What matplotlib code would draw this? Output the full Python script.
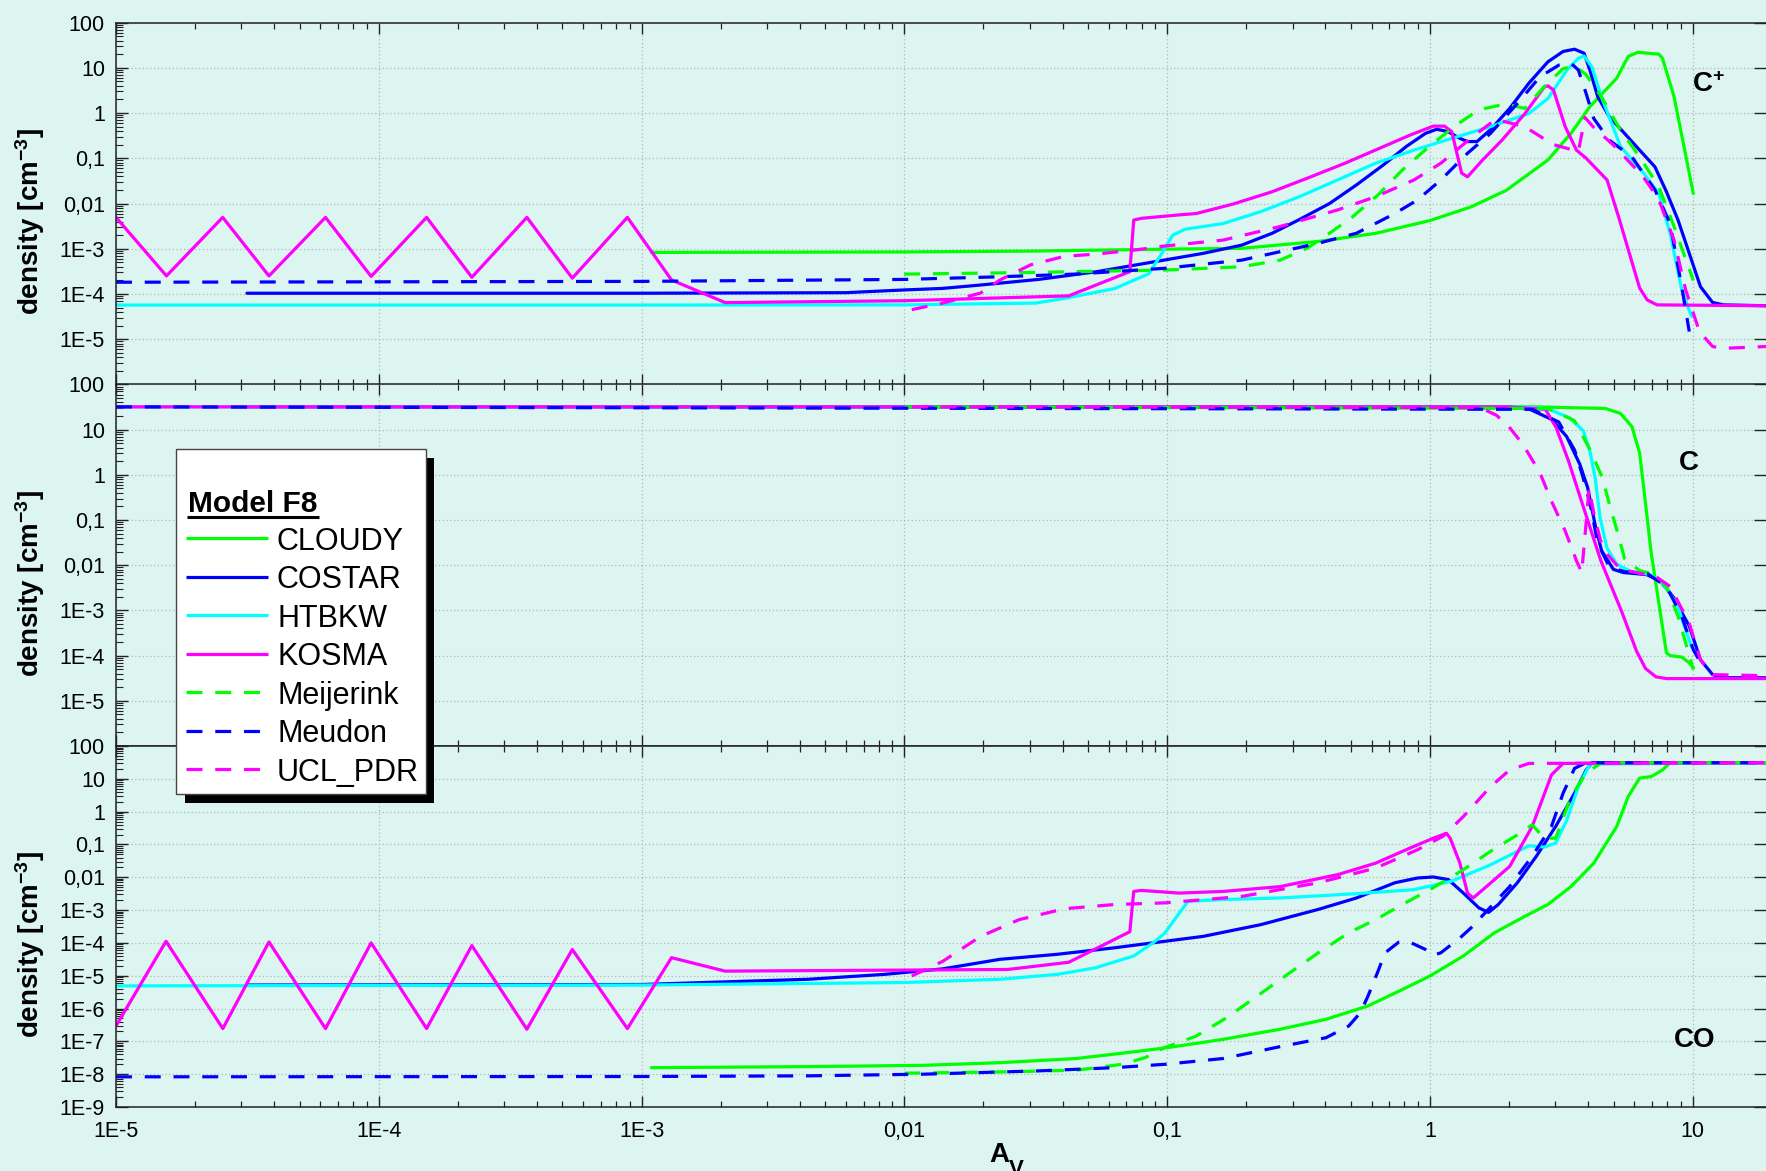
import matplotlib
matplotlib.use("Agg")
import numpy as np
import matplotlib.pyplot as plt
from matplotlib.ticker import FixedLocator, LogLocator, FuncFormatter, NullFormatter
from matplotlib.patches import Rectangle
from matplotlib.lines import Line2D

plt.rcParams['font.family'] = ['Liberation Sans', 'DejaVu Sans']
plt.rcParams['mathtext.fontset'] = 'custom'
plt.rcParams['mathtext.rm'] = 'Liberation Sans'
plt.rcParams['mathtext.bf'] = 'Liberation Sans:bold'
plt.rcParams['mathtext.it'] = 'Liberation Sans:italic'

# ---------------- data (A_V, density in cm^-3) ----------------
models = ['CLOUDY', 'COSTAR', 'HTBKW', 'KOSMA', 'Meijerink', 'Meudon', 'UCL_PDR']

# C+ panel
cp_cloudy_x = [1.09e-3, 0.01, 0.0316, 0.1, 0.192, 0.376, 0.621, 1.0, 1.44, 1.95, 2.81, 3.44, 4.06, 5.14, 5.68, 6.18, 7.43, 7.67, 8.49, 10.05]
cp_cloudy_y = [8.3e-4, 8.5e-4, 8.9e-4, 9.8e-4, 1.02e-3, 1.45e-3, 2.19e-3, 4.2e-3, 8.5e-3, 0.0195, 0.0912, 0.355, 1.38, 5.89, 17.8, 21.9, 20.0, 16.2, 2.29, 0.0166]
cp_costar_x = [3.15e-5, 1e-3, 6.0e-3, 0.01, 0.014, 0.0195, 0.0324, 0.0537, 0.0832, 0.137, 0.192, 0.251, 0.318, 0.415, 0.525, 0.664, 0.813, 0.962, 1.06, 1.17, 1.30, 1.39, 1.51, 1.70, 2.01, 2.38, 2.81, 3.21, 3.55, 3.86, 4.06, 4.35, 4.81, 5.50, 6.28, 7.18, 7.94, 8.79, 9.70, 10.7, 11.9, 13.1, 19]
cp_costar_y = [1.04e-4, 1.04e-4, 1.07e-4, 1.23e-4, 1.33e-4, 1.58e-4, 2.1e-4, 3.1e-4, 4.8e-4, 7.9e-4, 1.2e-3, 2.2e-3, 4.4e-3, 0.01, 0.0257, 0.0708, 0.182, 0.355, 0.437, 0.389, 0.275, 0.234, 0.234, 0.427, 1.26, 4.57, 13.5, 22.9, 25.7, 20.9, 8.9, 2.29, 0.832, 0.355, 0.151, 0.0646, 0.0182, 4.3e-3, 7.9e-4, 1.45e-4, 6.5e-5, 5.75e-5, 5.5e-5]
cp_htbkw_x = [1e-5, 1e-3, 0.01, 0.0316, 0.0422, 0.0631, 0.0851, 0.0955, 0.105, 0.117, 0.163, 0.227, 0.318, 0.445, 0.621, 0.869, 1.21, 1.70, 2.38, 2.81, 3.32, 3.67, 3.86, 4.13, 4.49, 5.31, 6.50, 7.43, 8.20, 9.08, 9.89]
cp_htbkw_y = [5.7e-5, 5.7e-5, 5.75e-5, 6.3e-5, 8.3e-5, 1.32e-4, 2.8e-4, 7.9e-4, 2.0e-3, 2.7e-3, 3.6e-3, 6.6e-3, 0.0141, 0.0331, 0.0776, 0.151, 0.275, 0.501, 0.977, 2.09, 8.9, 16.2, 18.2, 10.5, 2.29, 0.182, 0.0468, 0.0166, 2.2e-3, 1.23e-4, 3.2e-5]
cp_kosma_x = [1.0e-5, 1.556e-5, 2.547e-5, 3.82e-5, 6.27e-5, 9.35e-5, 1.52e-4, 2.26e-4, 3.66e-4, 5.45e-4, 8.83e-4, 1.30e-3, 2.08e-3, 0.01, 0.0422, 0.0721, 0.0746, 0.0798, 0.111, 0.129, 0.179, 0.251, 0.352, 0.475, 0.643, 0.839, 1.03, 1.135, 1.21, 1.32, 1.39, 1.585, 1.88, 2.30, 2.72, 2.81, 2.95, 3.27, 3.61, 3.93, 4.72, 5.22, 6.28, 6.71, 7.31, 19]
cp_kosma_y = [4.94e-3, 2.51e-4, 4.94e-3, 2.51e-4, 4.94e-3, 2.45e-4, 4.94e-3, 2.34e-4, 4.94e-3, 2.24e-4, 4.94e-3, 2.04e-4, 6.46e-5, 7.1e-5, 9.1e-5, 3.12e-4, 4.3e-3, 4.7e-3, 5.6e-3, 6.0e-3, 9.8e-3, 0.0182, 0.0389, 0.0776, 0.166, 0.324, 0.513, 0.513, 0.389, 0.0468, 0.0389, 0.0912, 0.251, 0.977, 3.72, 3.98, 3.24, 0.501, 0.151, 0.1, 0.0331, 5.1e-3, 1.35e-4, 7.4e-5, 5.75e-5, 5.5e-5]
cp_meijerink_x = [9.98e-3, 0.0316, 0.1, 0.192, 0.269, 0.34, 0.415, 0.508, 0.643, 0.785, 0.993, 1.256, 1.535, 1.94, 2.30, 2.72, 3.21, 3.55, 3.93, 4.49, 5.31, 6.28, 7.43, 8.49, 10.05]
cp_meijerink_y = [2.75e-4, 3.0e-4, 3.4e-4, 4.0e-4, 5.6e-4, 1.02e-3, 2.2e-3, 5.1e-3, 0.0166, 0.055, 0.182, 0.537, 1.175, 1.585, 1.26, 3.80, 9.5, 11.0, 7.0, 2.29, 0.417, 0.107, 0.0234, 3.1e-3, 2.0e-4]
cp_meudon_x = [1e-5, 1e-3, 0.01, 0.0229, 0.0447, 0.098, 0.192, 0.376, 0.525, 0.735, 0.897, 1.10, 1.39, 1.70, 2.15, 2.62, 3.10, 3.44, 3.67, 3.93, 4.20, 4.81, 5.87, 7.18, 8.20, 9.08, 9.70]
cp_meudon_y = [1.82e-4, 1.9e-4, 2.1e-4, 2.4e-4, 2.75e-4, 3.7e-4, 5.6e-4, 1.32e-3, 2.2e-3, 6.0e-3, 0.012, 0.0331, 0.129, 0.355, 1.62, 6.31, 11.5, 12.6, 8.9, 2.69, 0.759, 0.251, 0.107, 0.02, 3.6e-3, 1.45e-4, 1.48e-5]
cp_ucl_x = [0.01067, 0.014, 0.0195, 0.0231, 0.0302, 0.0407, 0.0533, 0.0746, 0.098, 0.163, 0.269, 0.445, 0.621, 0.869, 1.10, 1.435, 1.778, 2.29, 2.95, 3.67, 3.89, 4.17, 5.01, 6.46, 7.41, 8.49, 9.40, 10.6, 11.9, 13.1, 19]
cp_ucl_y = [4.5e-5, 6.3e-5, 1.05e-4, 2.04e-4, 4.4e-4, 6.8e-4, 7.6e-4, 9.3e-4, 1.15e-3, 1.55e-3, 3.1e-3, 7.2e-3, 0.0141, 0.0331, 0.0776, 0.282, 0.724, 0.501, 0.2, 0.141, 0.794, 0.501, 0.191, 0.0398, 0.0126, 1.55e-3, 1.23e-4, 1.48e-5, 6.9e-6, 6.3e-6, 6.9e-6]

# C panel
c_cloudy_x = [1.09e-3, 2.51, 4.65, 5.31, 5.87, 6.28, 6.61, 6.95, 7.43, 7.94, 8.20, 9.08, 9.70, 10.05]
c_cloudy_y = [32, 32, 29.5, 22.9, 11.7, 3.02, 0.234, 0.0186, 1.45e-3, 1.15e-4, 1.0e-4, 9.3e-5, 6.9e-5, 5.4e-5]
c_costar_x = [3.15e-5, 2.01, 2.40, 2.90, 3.31, 3.72, 3.98, 4.25, 4.50, 4.99, 5.44, 6.68, 7.52, 8.45, 9.70, 10.7, 11.9, 13.1, 19]
c_costar_y = [32, 31.6, 28.2, 17.0, 7.1, 1.70, 0.525, 0.0794, 0.0209, 8.1e-3, 6.9e-3, 6.2e-3, 4.5e-3, 1.95e-3, 4.5e-4, 8.1e-5, 3.8e-5, 3.24e-5, 3.24e-5]
c_htbkw_x = [1e-5, 2.22, 2.78, 3.41, 3.84, 4.06, 4.25, 4.44, 4.71, 5.14, 5.78, 6.89, 7.74, 8.71, 9.89]
c_htbkw_y = [32, 31.6, 29.5, 18.2, 9.3, 3.39, 0.871, 0.112, 0.0245, 0.0105, 7.4e-3, 6.2e-3, 3.8e-3, 1.38e-3, 1.58e-4]
c_kosma_x = [1e-5, 2.0, 2.75, 3.02, 3.37, 3.89, 4.47, 5.37, 6.11, 6.61, 7.24, 7.94, 19]
c_kosma_y = [32, 32, 28.2, 11.2, 2.0, 0.151, 0.0126, 9.3e-4, 1.26e-4, 5.2e-5, 3.4e-5, 3.1e-5, 3.1e-5]
c_meijerink_x = [0.01, 2.81, 3.55, 4.07, 4.52, 4.90, 5.19, 5.50, 6.28, 7.18, 7.94, 8.79, 9.40, 10.05]
c_meijerink_y = [32, 29.5, 15.8, 3.55, 0.891, 0.158, 0.0501, 0.0141, 7.6e-3, 6.2e-3, 3.4e-3, 7.4e-4, 1.9e-4, 4.9e-5]
c_meudon_x = [1e-5, 2.45, 3.09, 3.55, 3.80, 4.06, 4.35, 4.81, 5.50, 6.71, 7.94, 9.08, 10.05, 10.7]
c_meudon_y = [32, 28.2, 14.8, 3.55, 1.0, 0.24, 0.0309, 9.3e-3, 7.2e-3, 6.5e-3, 3.4e-3, 7.4e-4, 1.35e-4, 7.1e-5]
c_ucl_x = [0.01067, 1.55, 1.79, 1.99, 2.26, 2.62, 2.90, 3.27, 3.61, 3.78, 3.91, 4.03, 4.22, 4.46, 4.73, 5.31, 6.59, 7.31, 8.20, 9.70, 10.7, 11.9, 19]
c_ucl_y = [32, 30.9, 20.9, 12.0, 4.68, 1.12, 0.263, 0.0575, 0.0126, 6.9e-3, 0.0631, 0.501, 0.126, 0.0347, 0.0174, 8.1e-3, 6.3e-3, 5.4e-3, 3.4e-3, 5.2e-4, 8.1e-5, 3.8e-5, 3.6e-5]

# CO panel
co_cloudy_x = [1.09e-3, 4.3e-3, 0.0118, 0.0231, 0.0451, 0.0746, 0.101, 0.163, 0.269, 0.402, 0.581, 0.785, 1.0, 1.34, 1.76, 2.30, 2.81, 3.44, 4.20, 5.14, 5.68, 6.28, 6.95, 7.67, 8.20, 19]
co_cloudy_y = [1.58e-8, 1.7e-8, 1.86e-8, 2.24e-8, 3.0e-8, 4.8e-8, 6.5e-8, 1.15e-7, 2.34e-7, 4.7e-7, 1.2e-6, 3.8e-6, 9.8e-6, 4.0e-5, 2.04e-4, 6.5e-4, 1.48e-3, 5.2e-3, 0.0269, 0.355, 2.88, 10.5, 11.7, 18.6, 31, 31]
co_costar_x = [3.15e-5, 1e-3, 4.3e-3, 8.4e-3, 0.014, 0.0231, 0.0382, 0.0631, 0.098, 0.137, 0.227, 0.376, 0.525, 0.735, 0.897, 1.03, 1.175, 1.34, 1.535, 1.67, 1.82, 2.15, 2.54, 3.01, 3.55, 3.93, 4.13, 19]
co_costar_y = [5.2e-6, 5.4e-6, 7.8e-6, 1.1e-5, 1.62e-5, 3.16e-5, 4.5e-5, 7.1e-5, 1.12e-4, 1.58e-4, 3.6e-4, 1.05e-3, 2.34e-3, 6.8e-3, 9.5e-3, 0.0102, 8.5e-3, 3.3e-3, 1.17e-3, 8.5e-4, 1.48e-3, 6.8e-3, 0.0437, 0.355, 3.63, 18.6, 31, 31]
co_htbkw_x = [1e-5, 1e-3, 0.01, 0.0231, 0.0382, 0.0533, 0.0746, 0.0883, 0.098, 0.109, 0.120, 0.163, 0.269, 0.525, 0.869, 1.21, 1.70, 2.38, 2.72, 3.01, 3.32, 3.67, 4.06, 19]
co_htbkw_y = [4.9e-6, 5.2e-6, 6.2e-6, 7.8e-6, 1.1e-5, 1.74e-5, 4.0e-5, 1.0e-4, 2.0e-4, 6.5e-4, 1.86e-3, 2.1e-3, 2.34e-3, 3.16e-3, 4.2e-3, 7.6e-3, 0.024, 0.0912, 0.0832, 0.11, 0.562, 5.75, 28.2, 31]
co_kosma_x = [1.0e-5, 1.55e-5, 2.55e-5, 3.82e-5, 6.27e-5, 9.35e-5, 1.52e-4, 2.26e-4, 3.66e-4, 5.45e-4, 8.83e-4, 1.30e-3, 2.08e-3, 0.0247, 0.0422, 0.0721, 0.0746, 0.0798, 0.111, 0.163, 0.269, 0.445, 0.621, 0.839, 1.03, 1.156, 1.194, 1.30, 1.39, 1.46, 1.64, 2.01, 2.45, 2.90, 3.21, 19]
co_kosma_y = [2.95e-7, 1.12e-4, 2.45e-7, 1.07e-4, 2.45e-7, 1.0e-4, 2.45e-7, 8.3e-5, 2.34e-7, 6.3e-5, 2.45e-7, 3.55e-5, 1.38e-5, 1.55e-5, 2.57e-5, 2.19e-4, 3.7e-3, 3.98e-3, 3.3e-3, 3.7e-3, 5.2e-3, 0.012, 0.0269, 0.0776, 0.155, 0.219, 0.155, 0.0269, 3.3e-3, 2.34e-3, 5.2e-3, 0.0214, 0.355, 13.2, 29.5, 31]
co_meijerink_x = [0.01, 0.0231, 0.0451, 0.0676, 0.0826, 0.098, 0.129, 0.168, 0.22, 0.287, 0.376, 0.491, 0.621, 0.785, 1.0, 1.34, 1.70, 2.15, 2.45, 2.72, 3.01, 3.44, 3.93, 4.49, 19]
co_meijerink_y = [1.07e-8, 1.17e-8, 1.32e-8, 2.0e-8, 3.2e-8, 6.5e-8, 1.45e-7, 5.2e-7, 2.4e-6, 1.1e-5, 5.0e-5, 2.04e-4, 5.1e-4, 1.48e-3, 4.2e-3, 0.017, 0.0617, 0.195, 0.398, 0.155, 0.155, 2.88, 14.8, 31, 31]
co_meudon_x = [1e-5, 1e-3, 4.3e-3, 0.0118, 0.0324, 0.0631, 0.098, 0.163, 0.269, 0.402, 0.491, 0.543, 0.581, 0.631, 0.675, 0.76, 0.839, 0.962, 1.03, 1.10, 1.30, 1.435, 1.64, 2.01, 2.45, 2.90, 3.21, 3.55, 3.93, 19]
co_meudon_y = [8.3e-9, 8.5e-9, 8.9e-9, 1.0e-8, 1.26e-8, 1.58e-8, 2.0e-8, 3.0e-8, 6.9e-8, 1.29e-7, 2.95e-7, 7.4e-7, 2.4e-6, 1.23e-5, 5.0e-5, 1.05e-4, 1.05e-4, 6.3e-5, 4.2e-5, 5.0e-5, 1.41e-4, 2.9e-4, 9.1e-4, 5.2e-3, 0.0437, 0.355, 3.63, 20.9, 31, 31]
co_ucl_x = [0.01067, 0.014, 0.0195, 0.0273, 0.0407, 0.0631, 0.098, 0.192, 0.376, 0.621, 0.897, 1.122, 1.34, 1.70, 2.01, 2.38, 19]
co_ucl_y = [9.8e-6, 2.75e-5, 1.58e-4, 5.1e-4, 1.1e-3, 1.48e-3, 1.66e-3, 2.6e-3, 6.8e-3, 0.019, 0.069, 0.178, 0.708, 5.75, 18.6, 29.5, 31]

panel_labels = ['C$^{\\mathbf{+}}$', 'C', 'CO']
x_ticks = [1e-5, 1e-4, 1e-3, 1e-2, 1e-1, 1, 10]

# ---------------- styling ----------------
colors = {'CLOUDY': '#00ff00', 'COSTAR': '#0000ff', 'HTBKW': '#00ffff', 'KOSMA': '#ff00ff',
          'Meijerink': '#00ff00', 'Meudon': '#0000ff', 'UCL_PDR': '#ff00ff'}
dashed = {'Meijerink', 'Meudon', 'UCL_PDR'}
LW = 2.3
DASH = (5.0, 4.0)
BG = '#ddf5f0'

panels = [
    {'CLOUDY': (cp_cloudy_x, cp_cloudy_y), 'COSTAR': (cp_costar_x, cp_costar_y),
     'HTBKW': (cp_htbkw_x, cp_htbkw_y), 'KOSMA': (cp_kosma_x, cp_kosma_y),
     'Meijerink': (cp_meijerink_x, cp_meijerink_y), 'Meudon': (cp_meudon_x, cp_meudon_y),
     'UCL_PDR': (cp_ucl_x, cp_ucl_y)},
    {'CLOUDY': (c_cloudy_x, c_cloudy_y), 'COSTAR': (c_costar_x, c_costar_y),
     'HTBKW': (c_htbkw_x, c_htbkw_y), 'KOSMA': (c_kosma_x, c_kosma_y),
     'Meijerink': (c_meijerink_x, c_meijerink_y), 'Meudon': (c_meudon_x, c_meudon_y),
     'UCL_PDR': (c_ucl_x, c_ucl_y)},
    {'CLOUDY': (co_cloudy_x, co_cloudy_y), 'COSTAR': (co_costar_x, co_costar_y),
     'HTBKW': (co_htbkw_x, co_htbkw_y), 'KOSMA': (co_kosma_x, co_kosma_y),
     'Meijerink': (co_meijerink_x, co_meijerink_y), 'Meudon': (co_meudon_x, co_meudon_y),
     'UCL_PDR': (co_ucl_x, co_ucl_y)},
]

W, H = 1766, 1171
fig = plt.figure(figsize=(W / 100, H / 100), dpi=100, facecolor=BG)


def fx(px):
    return px / W


def fy(py):
    return 1 - py / H


def dec_label(v, pos, hide_low=None):
    e = int(round(np.log10(v)))
    if hide_low is not None and e <= hide_low:
        return ''
    if e >= 0:
        return str(10 ** e)
    if e == -1:
        return '0,1'
    if e == -2:
        return '0,01'
    return '1E%d' % e


# pixel extents of the three panels (top, bottom)
rows = [(22.5, 384.5), (384.5, 746), (746, 1107)]
ylows = [-6, -6, -9]
label_pos = [(0.955, 0.809), (0.947, 0.7635), (0.944, 0.166)]
axes = []
for i, (t, b) in enumerate(rows):
    ax = fig.add_axes([fx(116), fy(b), fx(W - 116), (b - t) / H])
    ax.set_facecolor(BG)
    ax.set_xscale('log')
    ax.set_yscale('log')
    for name in models:
        xs, ys = panels[i][name]
        if name in dashed:
            ax.plot(xs, ys, color=colors[name], lw=LW, dashes=DASH, dash_capstyle='butt')
        else:
            ax.plot(xs, ys, color=colors[name], lw=LW, solid_capstyle='round', solid_joinstyle='round')
    ax.set_xlim(1e-5, 19)
    ax.set_ylim(10.0 ** ylows[i], 100)

    ax.xaxis.set_major_locator(FixedLocator(x_ticks))
    ax.xaxis.set_minor_locator(LogLocator(base=10, subs=np.arange(2, 10), numticks=60))
    ax.xaxis.set_minor_formatter(NullFormatter())
    ax.xaxis.set_major_formatter(FuncFormatter(dec_label))
    ax.yaxis.set_major_locator(FixedLocator([10.0 ** e for e in range(ylows[i], 3)]))
    ax.yaxis.set_minor_locator(LogLocator(base=10, subs=np.arange(2, 10), numticks=60))
    ax.yaxis.set_minor_formatter(NullFormatter())
    hide = ylows[i] if i < 2 else None
    ax.yaxis.set_major_formatter(FuncFormatter(lambda v, p, h=hide: dec_label(v, p, h)))

    ax.tick_params(axis='x', which='both', direction='in', top=True, bottom=True,
                   labelbottom=(i == 2), labelsize=15.5, pad=10, color='#222222')
    ax.tick_params(axis='x', which='major', length=7.7, width=1.0)
    ax.tick_params(axis='x', which='minor', length=4.1, width=0.9)
    ax.tick_params(axis='y', which='major', direction='in', left=True, right=True,
                   length=8.6, width=1.0, labelsize=15.5, pad=8, color='#222222')
    ax.tick_params(axis='y', which='minor', direction='in', left=True, right=False,
                   length=4.7, width=0.8, color='#222222')

    ax.grid(True, which='major', axis='both', ls=(0, (1, 2)), color='#b5b5b5', lw=0.9)
    ax.set_axisbelow(True)
    for side in ['top', 'bottom', 'left']:
        ax.spines[side].set_color('#222222')
        ax.spines[side].set_linewidth(1.1)
    ax.spines['right'].set_visible(False)

    ax.set_ylabel('density [cm$^{\\mathbf{-3}}$]', fontsize=20, fontweight='bold')
    ax.yaxis.set_label_coords(-0.0418, 0.45)
    ax.text(label_pos[i][0], label_pos[i][1], panel_labels[i], transform=ax.transAxes,
            fontsize=20, fontweight='bold', ha='left', va='baseline')
    axes.append(ax)

# x axis title: A with a low subscript V that runs off the bottom edge
fig.text(fx(989), fy(1161.7), 'A', fontsize=20, fontweight='bold', ha='left', va='baseline')
fig.text(fx(1009), fy(1175), 'V', fontsize=16, fontweight='bold', ha='left', va='baseline')

# ---------------- legend box with drop shadow ----------------
fig.add_artist(Rectangle((fx(185), fy(802.7)), fx(434 - 185), (802.7 - 458) / H,
                         transform=fig.transFigure, facecolor='black', edgecolor='none', zorder=5))
fig.add_artist(Rectangle((fx(176), fy(794)), fx(426 - 176), (794 - 449) / H,
                         transform=fig.transFigure, facecolor='white', edgecolor='#444444',
                         lw=1.0, zorder=6))
fig.text(fx(188), fy(511.7), 'Model F8', fontsize=21.5, fontweight='bold', ha='left',
         va='baseline', zorder=7)
fig.add_artist(Line2D([fx(187), fx(319)], [fy(516.5), fy(516.5)], transform=fig.transFigure,
                      color='black', lw=2.2, solid_capstyle='butt', zorder=7))
for k, name in enumerate(models):
    yc = 538.3 + k * 38.5
    kw = dict(transform=fig.transFigure, color=colors[name], lw=LW, zorder=7)
    if name in dashed:
        ln = Line2D([fx(186), fx(268)], [fy(yc), fy(yc)], dashes=DASH, dash_capstyle='butt', **kw)
    else:
        ln = Line2D([fx(186), fx(268)], [fy(yc), fy(yc)], solid_capstyle='butt', **kw)
    fig.add_artist(ln)
    fig.text(fx(277), fy(yc + 11.5), name, fontsize=22, ha='left', va='baseline', zorder=7)

fig.savefig('out.png', dpi=100, facecolor=BG)
